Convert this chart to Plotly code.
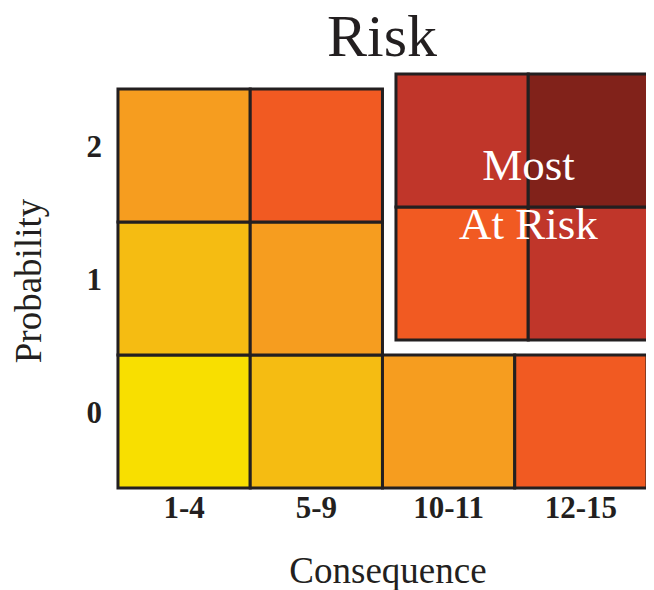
import plotly.graph_objects as go

# ---- data ----
consequence = ["1-4", "5-9", "10-11", "12-15"]
probability = ["0", "1", "2"]
# risk level per cell: rows = probability 0..2, cols = consequence
risk_level = [
    [0, 1, 2, 3],
    [1, 2, 3, 4],
    [2, 3, 4, 5],
]
level_colors = ["#F8DF00", "#F5BC12", "#F69D1F", "#F15A22", "#C0362A", "#81221A"]
# cells that belong to the highlighted "Most At Risk" block (row, col)
most_at_risk = [(1, 2), (1, 3), (2, 2), (2, 3)]
highlight_text = "Most<br>At Risk"

# ---- style / geometry ----
W, H = 654, 590
PAGE_MARGIN = 8                 # browser default body margin
PX_X, PX_Y = 132.25, 133.0
X0_PX, Y0_PX = 118.0 - PAGE_MARGIN, 488.0 - PAGE_MARGIN   # data origin in figure px
DX, DY = 0.102, 0.113           # offset of highlighted block (data units)
x_rng = [-0.03, (W - X0_PX) / PX_X]
y_rng = [-0.03, 3 + DY + 0.03]
l = X0_PX + x_rng[0] * PX_X
r = 0
b = H - (Y0_PX - y_rng[0] * PX_Y)
plot_h = (y_rng[1] - y_rng[0]) * PX_Y
t = H - b - plot_h

SERIF = "Liberation Serif, Times New Roman, serif"
BORDER = "#231F20"
INK = "#231F20"

fig = go.Figure()
# invisible trace to establish axes
fig.add_trace(go.Scatter(x=[0.5], y=[0.5], mode="markers",
                         marker=dict(opacity=0), hoverinfo="skip", showlegend=False))

shapes = []
for ri, row in enumerate(risk_level):
    for ci, lvl in enumerate(row):
        ox, oy = (DX, DY) if (ri, ci) in most_at_risk else (0, 0)
        shapes.append(dict(type="rect", xref="x", yref="y",
                           x0=ci + ox, x1=ci + 1 + ox, y0=ri + oy, y1=ri + 1 + oy,
                           fillcolor=level_colors[lvl],
                           line=dict(color=BORDER, width=3), layer="above"))

hr = [p[0] for p in most_at_risk]
hc = [p[1] for p in most_at_risk]
cx = (min(hc) + max(hc) + 1) / 2 + DX
cy = (min(hr) + max(hr) + 1) / 2 + DY

fig.update_layout(
    width=W, height=H,
    margin=dict(l=l, r=r, t=t, b=b, pad=0),
    plot_bgcolor="white", paper_bgcolor="white",
    shapes=shapes,
    title=dict(text="Risk", x=(382 - PAGE_MARGIN) / W, xanchor="center",
               y=1 - 6 / H, yanchor="top",
               font=dict(family=SERIF, size=60, color=INK)),
    xaxis=dict(range=x_rng, showgrid=False, zeroline=False, showline=False,
               tickvals=[i + 0.5 for i in range(len(consequence))], ticktext=consequence,
               tickfont=dict(family=SERIF, size=31, color=INK, weight="bold"),
               ticks="", ticklabelstandoff=-6,
               title=dict(text="Consequence", standoff=33,
                          font=dict(family=SERIF, size=37, color=INK))),
    yaxis=dict(range=y_rng, showgrid=False, zeroline=False, showline=False,
               tickvals=[i + 0.5 for i in range(len(probability))], ticktext=probability,
               tickfont=dict(family=SERIF, size=31, color=INK, weight="bold"),
               ticks="", ticklabelstandoff=11, ticklabelshift=-9,
               title=dict(text="Probability", standoff=38,
                          font=dict(family=SERIF, size=37, color=INK))),
    annotations=[dict(x=cx, y=cy, xref="x", yref="y", text=highlight_text,
                      showarrow=False, yshift=12,
                      font=dict(family=SERIF, size=45, color="white"))],
)

fig.write_html("out.html")
